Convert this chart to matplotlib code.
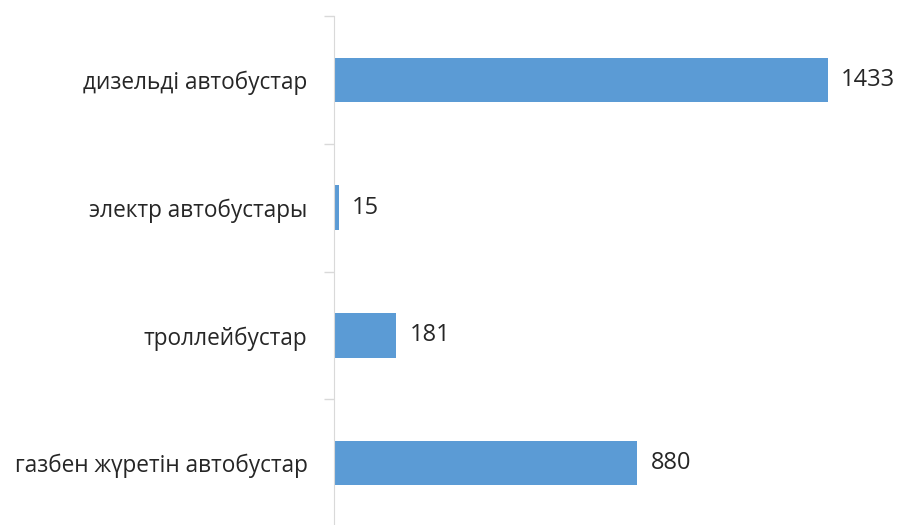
import matplotlib.pyplot as plt

categories = ['дизельді автобустар', 'электр автобустары', 'троллейбустар', 'газбен жүретін автобустар']
values = [1433, 15, 181, 880]

plt.rcParams['font.family'] = ['Open Sans', 'DejaVu Sans']

fig = plt.figure(figsize=(8.98, 5.25), dpi=100)
ax = fig.add_axes([334 / 898, -2 / 525, 564 / 898, 511 / 525])

pos = list(range(len(categories)))[::-1]
ax.barh(pos, values, height=0.35, color='#5B9BD5')

for p, v in zip(pos, values):
    ax.text(v + 38, p, str(v), va='center', ha='left', fontsize=17, color='#262626')

ax.set_xlim(0, 1636)
ax.set_ylim(-0.5, 3.5)
ax.set_yticks(pos)
ax.set_yticklabels(categories, fontsize=16.3, color='#262626')
ax.tick_params(axis='y', which='major', length=0, pad=19)
ax.set_yticks([-0.5, 0.5, 1.5, 2.5, 3.5], minor=True)
ax.tick_params(axis='y', which='minor', length=7, color='#D9D9D9', width=1)
ax.set_xticks([])

for s in ['top', 'right', 'bottom']:
    ax.spines[s].set_visible(False)
ax.spines['left'].set_color('#D9D9D9')

fig.savefig('out.png', dpi=100)
